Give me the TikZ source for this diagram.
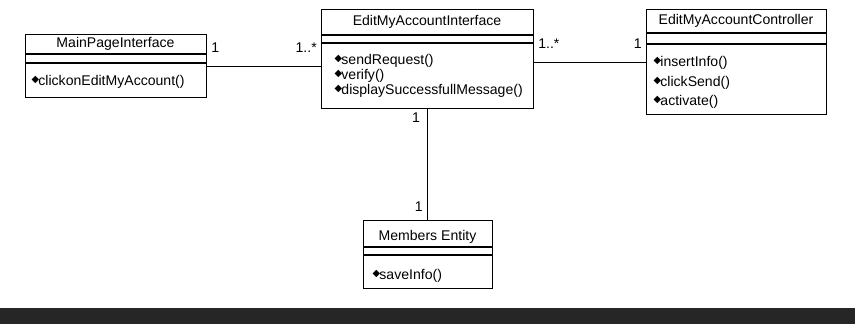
\documentclass[tikz,border=0pt]{standalone}
\usepackage{fontspec}
\setmainfont{Liberation Sans}
\newfontfamily\symfont{DejaVu Sans}
\usetikzlibrary{positioning}

\newcommand{\op}{\raisebox{2.2pt}{\symfont\fontsize{7}{7}\selectfont ◆}\kern-0.5pt}

\tikzset{
  classbox/.style={draw, anchor=north west, inner sep=0pt},
  classname/.style={inner sep=0pt},
  opname/.style={anchor=west, inner sep=0pt},
  mult/.style={inner sep=1pt}
}

\begin{document}
\begin{tikzpicture}[x=0.025cm, y=-0.025cm, line width=0.8pt,
    font=\fontsize{10}{12}\selectfont]
  \useasboundingbox (0,0) rectangle (855,324);

  % classes
  \node[classbox, minimum width=181*0.025cm, minimum height=63*0.025cm] (main) at (25,34) {};
  \node[classbox, minimum width=212*0.025cm, minimum height=99*0.025cm] (iface) at (321,9) {};
  \node[classbox, minimum width=180*0.025cm, minimum height=105*0.025cm] (ctrl) at (646,9) {};
  \node[classbox, minimum width=129*0.025cm, minimum height=68*0.025cm] (mem) at (363,220) {};

  % compartments
  \draw (25,54) -- (206,54) (25,63) -- (206,63);
  \draw (321,35) -- (533,35) (321,43) -- (533,43);
  \draw (646,33) -- (826,33) (646,44) -- (826,44);
  \draw (363,247) -- (492,247) (363,255) -- (492,255);

  \node[classname] (mainname) at (115.5,44) {MainPageInterface};
  \node[classname] (ifacename) at (427,22) {EditMyAccountInterface};
  \node[classname] (ctrlname) at (736,21) {EditMyAccountController};
  \node[classname] (memname) at (427.5,237) {Members Entity};

  \node[opname] (mainop1) at (31,82) {\op clickonEditMyAccount()};
  \node[opname] (ifaceop1) at (334,61) {\op sendRequest()};
  \node[opname] (ifaceop2) at (334,76) {\op verify()};
  \node[opname] (ifaceop3) at (334,91) {\op displaySuccessfullMessage()};
  \node[opname] (ctrlop1) at (653,63) {\op insertInfo()};
  \node[opname] (ctrlop2) at (653,83) {\op clickSend()};
  \node[opname] (ctrlop3) at (653,102) {\op activate()};
  \node[opname] (memop1) at (372,276) {\op saveInfo()};

  % associations
  \draw (main.east) -- node[mult, pos=0.02, above right=8pt and 0pt] {1}
    node[mult, pos=0.98, above left=8pt and 0pt] {1..*} (main.east -| iface.west);
  \draw (ctrl.west -| iface.east) -- node[mult, pos=0.02, above right=8pt and 0pt] {1..*}
    node[mult, pos=0.98, above left=8pt and 0pt] {1} (ctrl.west);
  \draw (iface.south) -- node[mult, pos=0.08, left=4pt] {1}
    node[mult, pos=0.88, left=2pt] {1} (iface.south |- mem.north);

  % scan edge
  \fill[black!85] (0,308) rectangle (855,324);
\end{tikzpicture}
\end{document}
